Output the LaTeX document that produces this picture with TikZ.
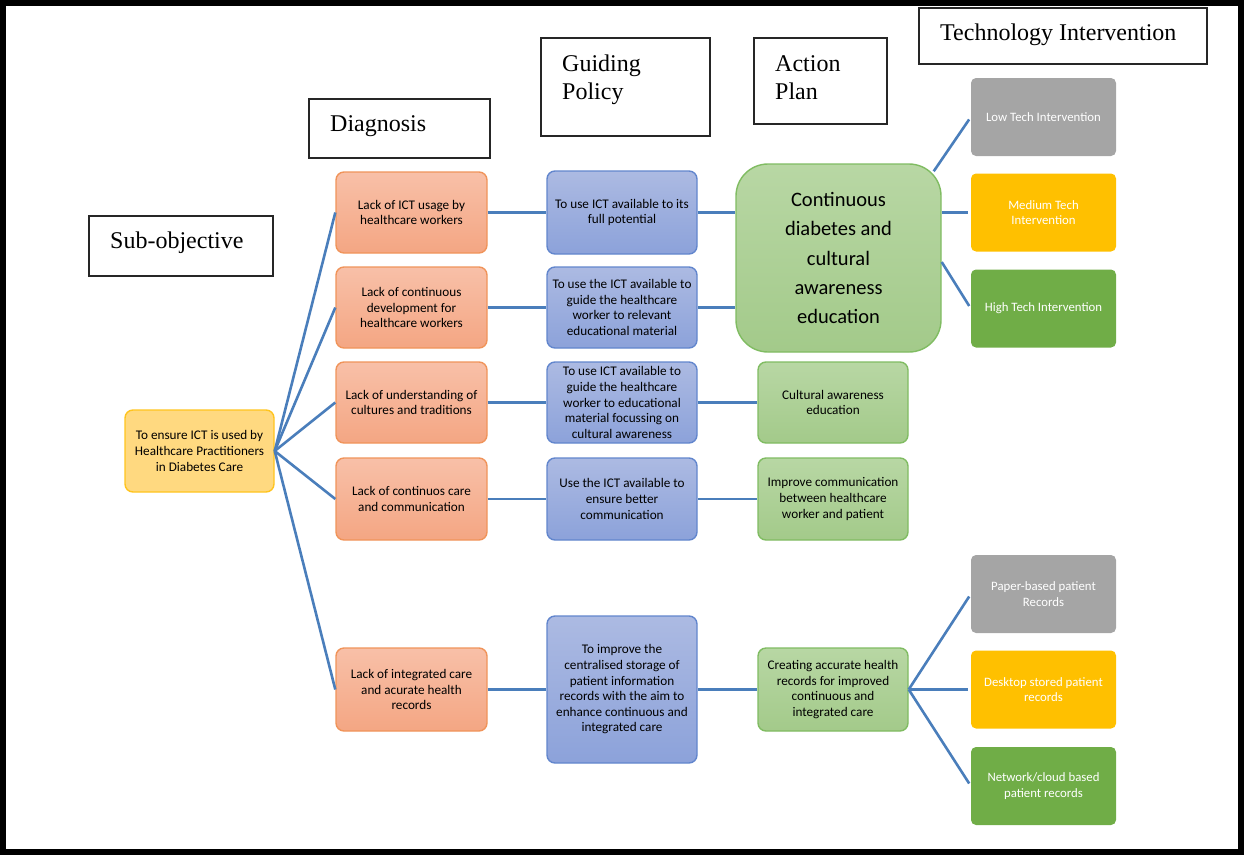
\documentclass[tikz,border=0pt]{standalone}
\usepackage{fontspec}
\setmainfont{Liberation Serif}
\newfontfamily\boxfont{Carlito}
\usetikzlibrary{calc}

\definecolor{linkblue}{RGB}{74,126,187}
\definecolor{orangeT}{RGB}{248,192,168}
\definecolor{orangeB}{RGB}{244,166,131}
\definecolor{orangeD}{RGB}{240,148,90}
\definecolor{blueT}{RGB}{172,186,226}
\definecolor{blueB}{RGB}{140,162,218}
\definecolor{blueD}{RGB}{98,134,205}
\definecolor{greenT}{RGB}{184,215,164}
\definecolor{greenB}{RGB}{163,202,138}
\definecolor{greenD}{RGB}{128,188,98}
\definecolor{yellowF}{RGB}{255,217,128}
\definecolor{yellowD}{RGB}{255,196,30}
\definecolor{techgray}{RGB}{165,165,165}
\definecolor{techgold}{RGB}{255,192,0}
\definecolor{techgreen}{RGB}{112,173,71}

\tikzset{
  hdr/.style={draw=black!85, line width=1.5, fill=white, inner sep=0},
  hdrtxt/.style={font=\fontsize{24}{28}\selectfont, align=left, inner sep=0, anchor=base west},
  box/.style={rounded corners=8, line width=1.4, align=center,
    font=\boxfont\fontsize{13.2}{15.6}\selectfont, inner sep=2,
    minimum width=151, minimum height=81},
  diagbox/.style={box, top color=orangeT, bottom color=orangeB, draw=orangeD},
  policybox/.style={box, top color=blueT, bottom color=blueB, draw=blueD, minimum width=150},
  planbox/.style={box, top color=greenT, bottom color=greenB, draw=greenD, minimum width=150},
  srcbox/.style={box, fill=yellowF, draw=yellowD, minimum width=149, minimum height=82},
  techbox/.style={rounded corners=5, align=center, text=white,
    font=\boxfont\fontsize{12.8}{15.6}\selectfont, inner sep=2,
    minimum width=145, minimum height=78},
  link/.style={draw=linkblue, line width=2.6},
}

\begin{document}
\begin{tikzpicture}[x=1pt, y=-1pt]
\useasboundingbox (0,0) rectangle (1244,854);
% outer frame
\draw[line width=6.5] (3.2,3) rectangle (1241.6,852.6);

% column headings (multi-line labels are placed by the baseline of their last line)
\node[hdr, minimum width=184, minimum height=60] (hsub) at (181,246) {};
\node[hdrtxt] (hsubt) at (110,248) {Sub-objective};
\node[hdr, minimum width=181, minimum height=59] (hdiag) at (399.5,128.5) {};
\node[hdrtxt] (hdiagt) at (330,131) {Diagnosis};
\node[hdr, minimum width=169, minimum height=98] (hpol) at (625.5,87) {};
\node[hdrtxt] (hpolt) at (562,99) {Guiding\\Policy};
\node[hdr, minimum width=133, minimum height=86] (hact) at (820.5,81) {};
\node[hdrtxt] (hactt) at (775,99) {Action\\Plan};
\node[hdr, minimum width=288, minimum height=56] (htech) at (1063,36) {};
\node[hdrtxt] (htecht) at (940,40) {Technology Intervention};

% sub-objective
\node[srcbox] (src) at (199.5,451) {To ensure ICT is used by\\Healthcare Practitioners\\in Diabetes Care};

% diagnosis
\node[diagbox] (o1) at (411.5,212.5) {Lack of ICT usage by\\healthcare workers};
\node[diagbox] (o2) at (411.5,307.5) {Lack of continuous\\development for\\healthcare workers};
\node[diagbox] (o3) at (411.5,402.5) {Lack of understanding of\\cultures and traditions};
\node[diagbox, minimum height=82] (o4) at (411.5,499) {Lack of continuos care\\and communication};
\node[diagbox, minimum height=83] (o5) at (411.5,689.5) {Lack of integrated care\\and acurate health\\records};

% guiding policy
\node[policybox, minimum height=83] (b1) at (622,212.5) {To use ICT available to its\\full potential};
\node[policybox] (b2) at (622,307.5) {To use the ICT available to\\guide the healthcare\\worker to relevant\\educational material};
\node[policybox] (b3) at (622,402.5) {To use ICT available to\\guide the healthcare\\worker to educational\\material focussing on\\cultural awareness};
\node[policybox, minimum height=82] (b4) at (622,499) {Use the ICT available to\\ensure better\\communication};
\node[policybox, minimum height=147] (b5) at (622,689.5) {To improve the\\centralised storage of\\patient information\\records with the aim to\\enhance continuous and\\integrated care};

% action plan
\node[planbox, rounded corners=32, minimum width=205, minimum height=188,
  font=\boxfont\fontsize{20.5}{29.2}\selectfont] (big) at (838.5,258)
  {Continuous\\diabetes and\\cultural\\awareness\\education};
\node[planbox] (g2) at (833,402.5) {Cultural awareness\\education};
\node[planbox, minimum height=82] (g3) at (833,499) {Improve communication\\between healthcare\\worker and patient};
\node[planbox, minimum height=83] (g4) at (833,689.5) {Creating accurate health\\records for improved\\continuous and\\integrated care};

% technology intervention
\node[techbox, fill=techgray] (low) at (1043.5,117) {Low Tech Intervention};
\node[techbox, fill=techgold] (med) at (1043.5,212.5) {Medium Tech\\Intervention};
\node[techbox, fill=techgreen] (high) at (1043.5,308.5) {High Tech Intervention};
\node[techbox, fill=techgray] (paper) at (1043.5,594) {Paper-based patient\\Records};
\node[techbox, fill=techgold] (desk) at (1043.5,689.5) {Desktop stored patient\\records};
\node[techbox, fill=techgreen] (net) at (1043.5,786) {Network/cloud based\\patient records};

% connectors
\foreach \d in {o1,o2,o3,o4,o5} \draw[link] (src.east) -- (\d.west);
\draw[link] (o1.east) -- (b1.west);
\draw[link] (o2.east) -- (b2.west);
\draw[link] (o3.east) -- (b3.west);
\draw[link] (o4.east) -- (b4.west);
\draw[link] (o5.east) -- (b5.west);
\draw[link] (b1.east) -- (b1.east -| big.west);
\draw[link] (b2.east) -- (b2.east -| big.west);
\draw[link] (b3.east) -- (g2.west);
\draw[link] (b4.east) -- (g3.west);
\draw[link] (b5.east) -- (g4.west);

\coordinate (bigup) at ($(big.north east)+(-8,8)$);
\coordinate (bigdown) at ($(big.east)+(0,4)$);
\draw[link, shorten >=3] (bigup) -- (low.west);
\draw[link, shorten >=3] (big.east |- med.west) -- (med.west);
\draw[link, shorten >=3] (bigdown) -- (high.west);
\draw[link, shorten >=3] (g4.east) -- (paper.west);
\draw[link, shorten >=3] (g4.east) -- (desk.west);
\draw[link, shorten >=3] (g4.east) -- (net.west);
\end{tikzpicture}
\end{document}
